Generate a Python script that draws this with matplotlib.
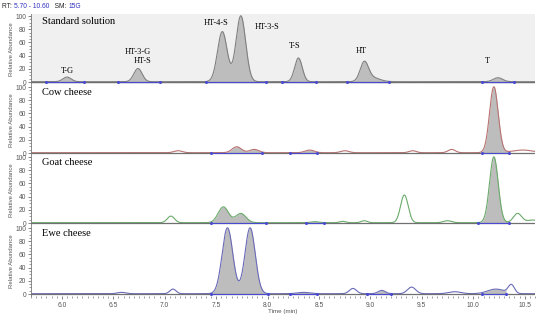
import numpy as np
import matplotlib
matplotlib.use("Agg")
import matplotlib.pyplot as plt
from matplotlib.ticker import MultipleLocator

# ---------------- data ----------------
x_range = (5.70, 10.60)
x_ticks = [6.0, 6.5, 7.0, 7.5, 8.0, 8.5, 9.0, 9.5, 10.0, 10.5]
y_ticks = [0, 20, 40, 60, 80, 100]

panel_titles = ["Standard solution", "Cow cheese", "Goat cheese", "Ewe cheese"]

# peaks: (retention time, relative height, width sigma)
std_rt = [6.05, 6.74, 7.56, 7.74, 8.30, 8.94, 9.02, 10.24]
std_h = [7, 20, 76, 100, 36, 28, 6, 6]
std_w = [0.040, 0.040, 0.047, 0.047, 0.037, 0.040, 0.07, 0.045]
std_win = [(5.85, 6.22), (6.55, 6.95), (7.40, 7.98), (8.14, 8.47), (8.77, 9.18), (10.08, 10.40)]

cow_rt = [7.13, 7.70, 7.87, 8.41, 8.75, 9.41, 9.79, 10.20, 10.48]
cow_h = [3, 9, 5, 4, 3, 3, 5, 100, 4]
cow_w = [0.04, 0.045, 0.045, 0.045, 0.04, 0.035, 0.035, 0.042, 0.10]
cow_win = [(7.45, 7.95), (8.22, 8.48), (10.08, 10.35)]

goat_rt = [7.06, 7.57, 7.74, 8.46, 8.73, 8.94, 9.33, 9.75, 10.20, 10.43, 10.58]
goat_h = [10, 24, 14, 1.5, 2, 3, 42, 3, 100, 14, 4]
goat_w = [0.035, 0.05, 0.05, 0.04, 0.03, 0.03, 0.037, 0.04, 0.042, 0.04, 0.06]
goat_win = [(7.45, 7.98), (8.37, 8.55), (10.05, 10.35)]

ewe_rt = [6.58, 7.08, 7.61, 7.83, 8.35, 8.83, 9.11, 9.40, 9.82, 10.22, 10.37]
ewe_h = [2, 7, 100, 100, 2, 8, 5, 10, 3, 7, 13]
ewe_w = [0.04, 0.03, 0.052, 0.050, 0.06, 0.035, 0.035, 0.04, 0.06, 0.08, 0.03]
ewe_win = [(7.45, 8.0), (8.22, 8.48), (8.97, 9.20), (10.08, 10.32)]

# peak labels in the standard panel: (text, rt, relative height)
std_labels = [("T-G", 6.05, 16), ("HT-3-G", 6.74, 45), ("HT-S", 6.78, 32),
              ("HT-4-S", 7.50, 90), ("HT-3-S", 8.00, 83), ("T-S", 8.26, 54),
              ("HT", 8.91, 47), ("T", 10.14, 32)]

panels = [
    (std_rt, std_h, std_w, std_win, "#808080", "#f0f0f0"),
    (cow_rt, cow_h, cow_w, cow_win, "#b87272", "white"),
    (goat_rt, goat_h, goat_w, goat_win, "#6aaa6a", "white"),
    (ewe_rt, ewe_h, ewe_w, ewe_win, "#6a6ab8", "white"),
]

# ---------------- figure ----------------
W, H = 550, 324
fig = plt.figure(figsize=(W / 100, H / 100), dpi=100)
serif = ["Liberation Serif", "DejaVu Serif"]
sans = ["Liberation Sans", "DejaVu Sans"]

left_px, right_px = 31, 535
bottoms_px = [84, 155, 225, 296]
height_px = 70.5
fill_col = "#bdbdbd"
base_blue = "#4a4ad0"

x = np.linspace(x_range[0], x_range[1], 3000)

for i, (rts, hs, ws, wins, lc, bg) in enumerate(panels):
    ax = fig.add_axes([left_px / W, 1 - bottoms_px[i] / H,
                       (right_px - left_px) / W, height_px / H])
    ax.set_facecolor(bg)
    y = np.zeros_like(x) + 0.5
    for r, h, w in zip(rts, hs, ws):
        y += h * np.exp(-0.5 * ((x - r) / w) ** 2)
    for a, b in wins:
        m = (x >= a) & (x <= b)
        ax.fill_between(x[m], 0, y[m], color=fill_col, lw=0, zorder=1)
        ax.plot([a, b], [0.3, 0.3], color=base_blue, lw=0.8, zorder=3)
        ax.plot([a, b], [0.3, 0.3], ls="none", marker="o", ms=1.2,
                color=base_blue, zorder=3)
    ax.plot(x, y, color=lc, lw=0.8, zorder=2)
    ax.axhline(0, color="#707070", lw=0.9, zorder=2.5)

    ax.set_xlim(*x_range)
    ax.set_ylim(-3, 104)
    ax.set_yticks(y_ticks)
    ax.yaxis.set_minor_locator(MultipleLocator(5))
    ax.tick_params(axis="y", which="major", labelsize=4.8, length=2.5,
                   width=0.5, colors="#555555", pad=1)
    ax.tick_params(axis="y", which="minor", length=1.2, width=0.4, colors="#555555")
    for lab in ax.get_yticklabels():
        lab.set_family(sans)
    ax.set_ylabel("Relative Abundance", fontsize=4.3, color="#555555",
                  family=sans, labelpad=1)
    for s in ["top", "right", "bottom"]:
        ax.spines[s].set_visible(False)
    ax.spines["left"].set_color("#777777")
    ax.spines["left"].set_linewidth(0.6)
    ax.text(0.022, 0.88, panel_titles[i], transform=ax.transAxes,
            fontsize=7.5, family=serif, va="center", ha="left")

    if i == 3:
        ax.set_xticks(x_ticks)
        ax.xaxis.set_minor_locator(MultipleLocator(0.05))
        ax.tick_params(axis="x", which="major", labelsize=4.8, length=2.5,
                       width=0.5, colors="#555555", pad=2)
        ax.tick_params(axis="x", which="minor", length=1.2, width=0.4,
                       colors="#555555")
        for lab in ax.get_xticklabels():
            lab.set_family(sans)
        ax.set_xlabel("Time (min)", fontsize=4.5, color="#555555",
                      family=sans, labelpad=0)
    else:
        ax.set_xticks([])

    if i == 0:
        for t, r, h in std_labels:
            ax.text(r, h, t, fontsize=6, family=serif, ha="center", va="center")

# header
hx = 2 / W
hy = 1 - 6 / H
parts = [("RT: ", "#222222"), ("5.70 - 10.60", "#3030c0"), ("   SM: ", "#222222"), ("15G", "#3030c0")]
renderer = fig.canvas.get_renderer()
cur = hx
for txt, col in parts:
    t = fig.text(cur, hy, txt, fontsize=4.8, color=col, family=sans, va="center", ha="left")
    bb = t.get_window_extent(renderer=renderer)
    cur += bb.width / W

fig.savefig("out.png", dpi=100)
